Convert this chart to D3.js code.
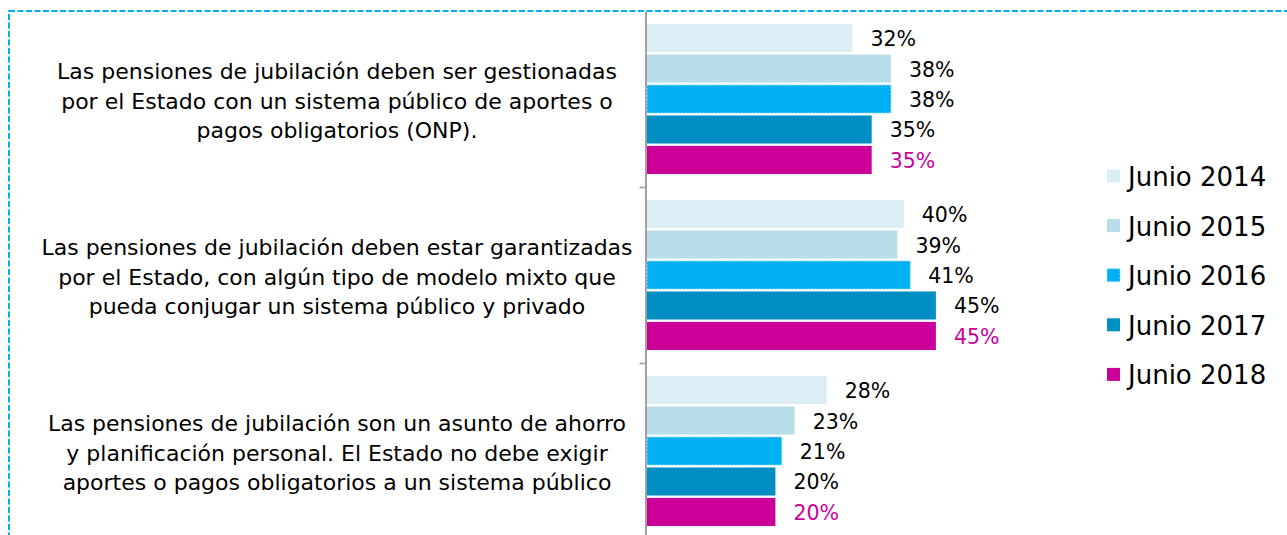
<!DOCTYPE html>
<html>
<head>
<meta charset="utf-8">
<script src="https://cdn.jsdelivr.net/npm/d3@7"></script>
<style>
  body { margin: 0; background: #fff; }
  svg { display: block; font-family: "DejaVu Sans", sans-serif; }
</style>
</head>
<body>
<div class="canvas"></div>
<script>
// data
const categories = [
  "Las pensiones de jubilación deben ser gestionadas|por el Estado con un sistema público de aportes o|pagos obligatorios (ONP).",
  "Las pensiones de jubilación deben estar garantizadas|por el Estado, con algún tipo de modelo mixto que|pueda conjugar un sistema público y privado",
  "Las pensiones de jubilación son un asunto de ahorro|y planificación personal. El Estado no debe exigir|aportes o pagos obligatorios a un sistema público"
];
const seriesNames = ["Junio 2014", "Junio 2015", "Junio 2016", "Junio 2017", "Junio 2018"];
const junio2014 = [32, 40, 28];
const junio2015 = [38, 39, 23];
const junio2016 = [38, 41, 21];
const junio2017 = [35, 45, 20];
const junio2018 = [35, 45, 20];
const seriesValues = [junio2014, junio2015, junio2016, junio2017, junio2018];
const colors = ["#DAEEF3", "#B7DEE8", "#00B0F0", "#008FC2", "#CC0099"];
const labelColors = ["#000", "#000", "#000", "#000", "#CC0099"];

const width = 1287, height = 535;

const svg = d3.select('.canvas')
  .append('svg')
    .attr('width', width)
    .attr('height', height);

// dashed frame
svg.append('rect')
  .attr('x', 9).attr('y', 11)
  .attr('width', 1300).attr('height', 600)
  .attr('fill', 'none')
  .attr('stroke', '#00B0F0')
  .attr('stroke-width', 2)
  .attr('stroke-dasharray', '6,2.5');

// scales
const y0 = d3.scaleBand()
  .domain(categories)
  .range([11, 539]);

const y1 = d3.scaleBand()
  .domain(seriesNames)
  .range([13, y0.bandwidth() - 13])
  .paddingInner(0.08);

const x = d3.scaleLinear()
  .domain([0, 50])
  .range([647, 968]);

// axis with ticks on band boundaries
const yb = d3.scaleLinear().domain([0, categories.length]).range(y0.range());
const axis = svg.append('g')
  .attr('transform', 'translate(645.5,0)')
  .call(d3.axisLeft(yb).tickValues([1, 2]).tickSize(6).tickSizeOuter(0).tickFormat(''));
axis.select('.domain').attr('stroke', '#A0A0A0').attr('stroke-width', 2);
axis.selectAll('.tick line').attr('stroke', '#A0A0A0').attr('stroke-width', 1.5);

// rows of bars
const rows = [];
categories.forEach((c, ci) => {
  seriesNames.forEach((s, si) => {
    rows.push({cat: c, series: s, si: si, value: seriesValues[si][ci]});
  });
});

const groups = svg.selectAll('g.cat')
  .data(categories)
  .enter()
  .append('g')
    .attr('class', 'cat')
    .attr('transform', d => `translate(0,${y0(d)})`);

groups.selectAll('rect')
  .data(c => rows.filter(r => r.cat === c))
  .enter()
  .append('rect')
    .attr('x', x(0))
    .attr('y', d => y1(d.series))
    .attr('width', d => x(d.value) - x(0))
    .attr('height', y1.bandwidth())
    .attr('fill', d => colors[d.si])
    .attr('stroke', d => d.si === 2 ? '#9BDDF7' : 'none')
    .attr('stroke-width', 1)
    .attr('stroke-dasharray', d => d.si === 2 ? '2,1.5' : null);

groups.selectAll('text.val')
  .data(c => rows.filter(r => r.cat === c))
  .enter()
  .append('text')
    .attr('class', 'val')
    .attr('x', d => x(d.value) + 18)
    .attr('y', d => y1(d.series) + y1.bandwidth() / 2 + 1)
    .attr('dominant-baseline', 'central')
    .attr('font-size', 20.5)
    .attr('fill', d => labelColors[d.si])
    .text(d => d.value + '%');

// category labels
const lineH = 29.5;
groups.append('text')
  .attr('text-anchor', 'middle')
  .attr('font-size', 22)
  .attr('fill', '#000')
  .selectAll('tspan')
  .data(c => c.split('|').map((t, i, a) => ({t: t, i: i, n: a.length})))
  .enter()
  .append('tspan')
    .attr('x', 337)
    .attr('y', d => y0.bandwidth() / 2 + (d.i - (d.n - 1) / 2) * lineH + 2)
    .attr('dominant-baseline', 'central')
    .text(d => d.t);

// legend
const legend = svg.append('g')
  .selectAll('g')
  .data(seriesNames)
  .enter()
  .append('g')
    .attr('transform', (d, i) => `translate(1107,${176 + i * 49.6})`);

legend.append('rect')
  .attr('x', 0).attr('y', -6.5)
  .attr('width', 13).attr('height', 13)
  .attr('fill', (d, i) => colors[i])
  .attr('stroke', (d, i) => i === 2 ? '#9BDDF7' : 'none')
  .attr('stroke-dasharray', (d, i) => i === 2 ? '2,1.5' : null);

legend.append('text')
  .attr('x', 21)
  .attr('y', 1)
  .attr('dominant-baseline', 'central')
  .attr('font-size', 26)
  .attr('fill', '#000')
  .text(d => d);
</script>
</body>
</html>
